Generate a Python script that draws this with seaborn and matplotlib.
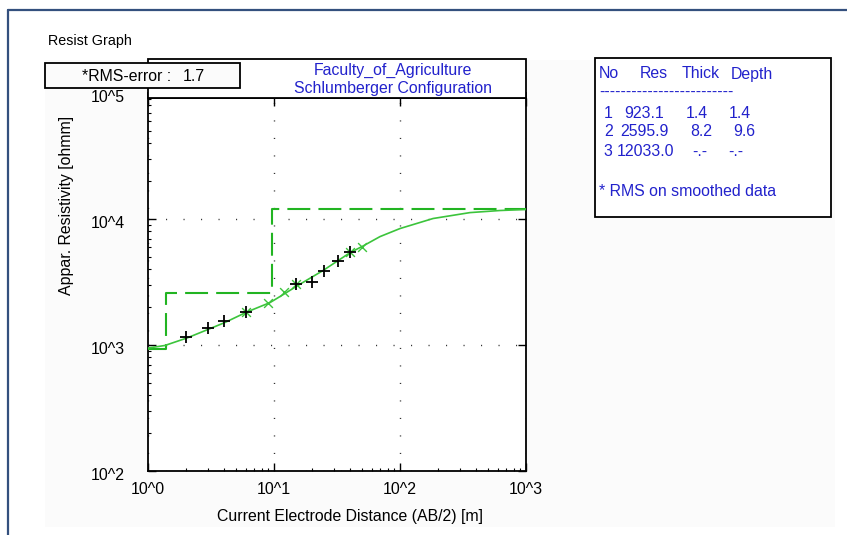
import matplotlib
matplotlib.use("Agg")
import matplotlib.pyplot as plt
import seaborn as sns
import pandas as pd
from matplotlib.patches import Rectangle
from matplotlib.lines import Line2D
from matplotlib.ticker import LogLocator, NullFormatter
from matplotlib.transforms import ScaledTranslation

# ---------------- data ----------------
layer_no = [1, 2, 3]
layer_res = [923.1, 2595.9, 12033.0]
layer_thick = [1.4, 8.2]
layer_depth = [1.4, 9.6]
rms_error = 1.7

obs_x = [2, 3, 4, 6, 15, 20, 25, 32, 40]
obs_y = [1164, 1360, 1540, 1818, 3030, 3180, 3840, 4620, 5500]

smooth_x = [6, 9, 12, 15, 40, 50]
smooth_y = [1818, 2140, 2620, 3030, 5500, 6030]

curve_x = [1.0, 1.36, 2.04, 2.99, 4.08, 6.11, 9.29, 12.2, 15.2, 24.5, 40.1, 50.8,
           69.4, 100, 183, 359, 622, 1000]
curve_y = [946, 991, 1137, 1328, 1509, 1830, 2170, 2560, 2940, 3900, 5400, 6100,
           7250, 8400, 10090, 11240, 11680, 11900]

x_ticks = [1, 10, 100, 1000]
x_tick_labels = ["10^0", "10^1", "10^2", "10^3"]
y_ticks = [100, 1000, 10000, 100000]
y_tick_labels = ["10^2", "10^3", "10^4", "10^5"]

title_lines = ["Faculty_of_Agriculture", "Schlumberger Configuration"]

# step model built from the layer table
step_x = [1.0] + layer_depth + [1000.0]
step_y = layer_res + [layer_res[-1]]

# ---------------- style ----------------
sns.set_style("ticks")
plt.rcParams["font.family"] = ["Liberation Sans", "DejaVu Sans"]
FS = 11.4

W, H = 847, 535
fig = plt.figure(figsize=(W / 100, H / 100), dpi=100, facecolor="white")


def fx(x):
    return x / W


def fy(y):
    return 1 - y / H


TF = fig.transFigure
BLUE = "#2222cc"
GREEN_STEP = "#22b422"
GREEN_CURVE = "#3cc43c"

# window frame + panel
fig.add_artist(Rectangle((fx(45), fy(527)), fx(835) - fx(45), fy(60) - fy(527),
                         transform=TF, facecolor="#fbfbfb", edgecolor="none", zorder=-5))
fig.add_artist(Line2D([fx(8), fx(8)], [fy(10), 0], transform=TF, color="#34507e", lw=1.6))
fig.add_artist(Line2D([fx(8), 1], [fy(10), fy(10)], transform=TF, color="#34507e", lw=1.6))

fig.text(fx(48), fy(41), "Resist Graph", ha="left", va="center", fontsize=10.3, color="black")

# ---------------- axes ----------------
# decades are 126 px in both directions; the frame top sits just below 10^5
ax = fig.add_axes([fx(148), fy(471), fx(526) - fx(148), fy(93) - fy(471)])
ax.set_facecolor("white")
ax.set_xscale("log")
ax.set_yscale("log")
ax.set_xlim(1, 1000)
ax.set_ylim(100, 100000)
ax.spines["top"].set_position(("axes", (471 - 98) / 378))

ax.grid(which="major", color="#333333", lw=1.0, linestyle=(0, (0.8, 11.8)))

df_step = pd.DataFrame({"x": step_x, "y": step_y})
sns.lineplot(data=df_step, x="x", y="y", ax=ax, estimator=None, sort=False,
             drawstyle="steps-post", color=GREEN_STEP, lw=1.5,
             linestyle=(0, (11, 3.9)), zorder=3)

df_curve = pd.DataFrame({"x": curve_x, "y": curve_y})
sns.lineplot(data=df_curve, x="x", y="y", ax=ax, estimator=None, sort=False,
             color=GREEN_CURVE, lw=1.2, zorder=4)

df_smooth = pd.DataFrame({"x": smooth_x, "y": smooth_y})
sns.scatterplot(data=df_smooth, x="x", y="y", ax=ax, marker="x", color=GREEN_CURVE,
                s=40, linewidth=1.0, zorder=5)

df_obs = pd.DataFrame({"x": obs_x, "y": obs_y})
sns.scatterplot(data=df_obs, x="x", y="y", ax=ax, marker="+", color="black",
                s=80, linewidth=1.3, zorder=6)

ax.set_xticks(x_ticks)
ax.set_xticklabels(x_tick_labels)
ax.set_yticks(y_ticks)
ax.set_yticklabels(y_tick_labels)
ax.xaxis.set_minor_locator(LogLocator(base=10, subs=range(2, 10)))
ax.yaxis.set_minor_locator(LogLocator(base=10, subs=range(2, 10)))
ax.xaxis.set_minor_formatter(NullFormatter())
ax.yaxis.set_minor_formatter(NullFormatter())

ax.tick_params(which="major", direction="in", length=6, width=1.0, color="black",
               top=True, right=True, labelsize=FS, labelcolor="black")
ax.tick_params(which="minor", direction="in", length=2.5, width=0.8, color="black",
               top=False, right=False, left=True, bottom=True)
ax.tick_params(axis="x", which="major", pad=8)
ax.tick_params(axis="y", which="major", pad=17)

# y tick labels sit a few pixels below their ticks, as in the original
shift = ScaledTranslation(0, -3 / 100, fig.dpi_scale_trans)
for tick in ax.yaxis.get_major_ticks():
    tick.label1.set_transform(tick.label1.get_transform() + shift)

for sp in ax.spines.values():
    sp.set_color("black")
    sp.set_linewidth(1.3)

ax.set_xlabel("Current Electrode Distance (AB/2) [m]", fontsize=FS, color="black")
ax.set_ylabel("Appar. Resistivity [ohmm]", fontsize=FS, color="black")
ax.xaxis.set_label_coords((350 - 148) / 378, (471 - 517) / 378)
ax.xaxis.label.set_va("center")
ax.yaxis.set_label_coords((66 - 148) / 378, (471 - 205) / 378)
ax.yaxis.label.set_va("center")

# ---------------- title box ----------------
fig.add_artist(Rectangle((fx(148), fy(98)), fx(526) - fx(148), fy(59) - fy(98),
                         transform=TF, facecolor="white", edgecolor="black", lw=1.3, zorder=2))
fig.text(fx(393), fy(70), title_lines[0], ha="center", va="center", fontsize=FS,
         color=BLUE, zorder=3)
fig.text(fx(393), fy(89), title_lines[1], ha="center", va="center", fontsize=FS,
         color=BLUE, zorder=3)

# ---------------- RMS box ----------------
fig.add_artist(Rectangle((fx(45), fy(88)), fx(240) - fx(45), fy(63) - fy(88),
                         transform=TF, facecolor="#fbfbfb", edgecolor="black", lw=1.3, zorder=4))
fig.text(fx(82), fy(76.5), "*RMS-error :", ha="left", va="center", fontsize=FS,
         color="black", zorder=5)
fig.text(fx(183), fy(76.5), f"{rms_error:.1f}", ha="left", va="center", fontsize=FS,
         color="black", zorder=5)

# ---------------- layer table box ----------------
fig.add_artist(Rectangle((fx(595), fy(217)), fx(831) - fx(595), fy(58) - fy(217),
                         transform=TF, facecolor="white", edgecolor="black", lw=1.3, zorder=2))
hdr_y = 74
for txt, x in zip(["No", "Res", "Thick", "Depth"], [599, 640, 682, 731]):
    fig.text(fx(x), fy(hdr_y), txt, ha="left", va="center", fontsize=FS, color=BLUE, zorder=3)
fig.text(fx(599), fy(92), "-" * 25, ha="left", va="center", fontsize=FS, color=BLUE, zorder=3)

row_y = [113, 132, 151]
no_x = [604, 604, 603]
res_x = [624, 620, 617]
thick_x = [686, 690, 692]
depth_x = [729, 733, 728]
for i in range(3):
    thick_s = f"{layer_thick[i]:.1f}" if i < len(layer_thick) else "-.-"
    depth_s = f"{layer_depth[i]:.1f}" if i < len(layer_depth) else "-.-"
    fig.text(fx(no_x[i]), fy(row_y[i]), str(layer_no[i]), ha="left", va="center",
             fontsize=FS, color=BLUE, zorder=3)
    fig.text(fx(res_x[i]), fy(row_y[i]), f"{layer_res[i]:.1f}", ha="left", va="center",
             fontsize=FS, color=BLUE, zorder=3)
    fig.text(fx(thick_x[i]), fy(row_y[i]), thick_s, ha="left", va="center",
             fontsize=FS, color=BLUE, zorder=3)
    fig.text(fx(depth_x[i]), fy(row_y[i]), depth_s, ha="left", va="center",
             fontsize=FS, color=BLUE, zorder=3)
fig.text(fx(599), fy(191), "* RMS on smoothed data", ha="left", va="center",
         fontsize=FS, color=BLUE, zorder=3)

fig.savefig("out.png", dpi=100, facecolor="white")
